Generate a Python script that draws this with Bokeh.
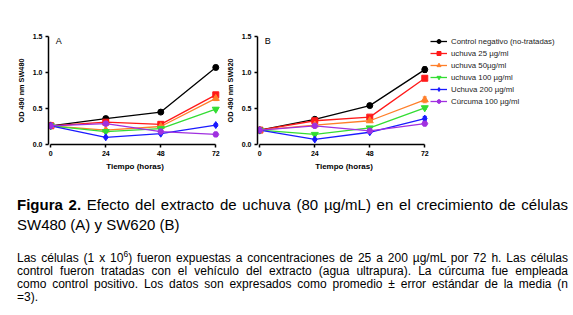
from bokeh.plotting import figure
from bokeh.models import (Range1d, FixedTicker, PrintfTickFormatter, Legend, LegendItem,
                          Whisker, ColumnDataSource, Label, Div, TeeHead)
from bokeh.layouts import column, row
from bokeh.embed import file_html
from bokeh.resources import INLINE

# ---------------- data ----------------
time = [0, 24, 48, 72]
x_ticks = [0, 24, 48, 72]
y_ticks = [0.0, 0.5, 1.0, 1.5]

series_names = ["Control negativo (no-tratadas)", "uchuva 25 \u00b5g/ml", "uchuva 50\u00b5g/ml",
                "uchuva 100 \u00b5g/ml", "Uchuva 200 \u00b5g/ml", "C\u00farcuma 100 \u00b5g/ml"]
series_colors = ["#000000", "#ff1a1a", "#ff7f2a", "#33dd33", "#1a1aff", "#a030e0"]
series_markers = ["circle", "square", "triangle", "inverted_triangle", "diamond", "hex"]

# Panel A (SW480)
ctrl_a = [0.26, 0.36, 0.45, 1.07]
u25_a = [0.26, 0.31, 0.28, 0.69]
u50_a = [0.26, 0.20, 0.25, 0.64]
u100_a = [0.26, 0.18, 0.22, 0.49]
u200_a = [0.26, 0.10, 0.15, 0.27]
cur_a = [0.26, 0.29, 0.18, 0.14]
err_ctrl_a = [0.01, 0.02, 0.01, 0.03]
err_u25_a = [0.01, 0.02, 0.02, 0.03]
err_u50_a = [0.01, 0.01, 0.02, 0.03]
err_u100_a = [0.01, 0.01, 0.01, 0.02]
err_u200_a = [0.01, 0.01, 0.01, 0.02]
err_cur_a = [0.01, 0.02, 0.01, 0.02]

# Panel B (SW620)
ctrl_b = [0.20, 0.35, 0.54, 1.04]
u25_b = [0.20, 0.33, 0.38, 0.92]
u50_b = [0.20, 0.27, 0.33, 0.62]
u100_b = [0.20, 0.14, 0.23, 0.51]
u200_b = [0.20, 0.07, 0.17, 0.36]
cur_b = [0.20, 0.26, 0.19, 0.29]
err_ctrl_b = [0.01, 0.02, 0.02, 0.04]
err_u25_b = [0.01, 0.02, 0.02, 0.02]
err_u50_b = [0.01, 0.01, 0.02, 0.04]
err_u100_b = [0.01, 0.01, 0.01, 0.02]
err_u200_b = [0.01, 0.01, 0.01, 0.03]
err_cur_b = [0.01, 0.02, 0.01, 0.02]

caption_bold = "Figura 2."
caption_line1 = " Efecto del extracto de uchuva (80 \u00b5g/mL) en el crecimiento de c\u00e9lulas"
caption_line2 = "SW480 (A) y SW620 (B)"
note_lines = [
    "Las c\u00e9lulas (1 x 10<sup>6</sup>) fueron expuestas a concentraciones de 25 a 200 \u00b5g/mL por 72 h. Las c\u00e9lulas",
    "control fueron tratadas con el veh\u00edculo del extracto (agua ultrapura). La c\u00farcuma fue empleada",
    "como control positivo. Los datos son expresados como promedio \u00b1 error est\u00e1ndar de la media (n",
    "=3).",
]

FONT = "Liberation Sans"


def make_panel(vals, errs, ylabel, letter, left, right, top, bottom, with_legend):
    p = figure(width=None, height=None, frame_width=173, frame_height=108,
               x_range=Range1d(-1, 74.5), y_range=Range1d(0, 1.5),
               min_border_left=left, min_border_right=right, min_border_top=top,
               min_border_bottom=bottom, output_backend="svg", toolbar_location=None, tools="")
    p.grid.visible = False
    p.outline_line_color = None
    p.background_fill_color = "white"
    p.border_fill_color = "white"

    xa = p.xaxis[0]
    xa.bounds = (0, 72)
    xa.ticker = FixedTicker(ticks=x_ticks)
    xa.axis_label = "Tiempo (horas)"
    ya = p.yaxis[0]
    ya.bounds = (0, 1.5)
    ya.ticker = FixedTicker(ticks=y_ticks)
    ya.formatter = PrintfTickFormatter(format="%.1f")
    ya.axis_label = ylabel
    for ax in (xa, ya):
        ax.axis_line_width = 1.5
        ax.major_tick_line_width = 1.5
        ax.major_tick_out = 3
        ax.major_tick_in = 0
        ax.minor_tick_out = 0
        ax.minor_tick_in = 0
        ax.major_label_text_font = FONT
        ax.major_label_text_font_style = "bold"
        ax.major_label_text_font_size = "7px"
        ax.major_label_text_color = "#000000"
        ax.axis_label_text_font = FONT
        ax.axis_label_text_font_style = "bold"
        ax.axis_label_text_color = "#000000"
    xa.axis_label_text_font_size = "8px"
    ya.axis_label_text_font_size = "7.3px"
    xa.major_label_standoff = 3
    xa.axis_label_standoff = 3
    ya.major_label_standoff = 3
    ya.axis_label_standoff = 4

    items = []
    for name, v, e, c, m in zip(series_names, vals, errs, series_colors, series_markers):
        src = ColumnDataSource(data=dict(x=time, y=v,
                                         upper=[a + b for a, b in zip(v, e)],
                                         lower=[a - b for a, b in zip(v, e)]))
        w = Whisker(source=src, base="x", upper="upper", lower="lower", dimension="height",
                    line_color=c, line_width=1,
                    upper_head=TeeHead(size=4, line_color=c, line_width=1),
                    lower_head=TeeHead(size=4, line_color=c, line_width=1))
        p.add_layout(w)
        lr = p.line("x", "y", source=src, line_color=c, line_width=1.3)
        size = 6 if m in ("circle", "square", "hex") else 7
        sr = p.scatter("x", "y", source=src, marker=m, size=size, fill_color=c, line_color=c)
        items.append(LegendItem(label=name, renderers=[lr, sr]))

    p.add_layout(Label(x=2.2, y=1.5, text=letter, text_baseline="top", text_align="left",
                       text_font=FONT, text_font_size="9px", text_color="#000000", y_offset=1))

    if with_legend:
        leg = Legend(items=items, location="top_left", margin=0, padding=0, spacing=2,
                     glyph_width=17, glyph_height=10, label_height=10, label_standoff=4,
                     label_text_font=FONT, label_text_font_size="7.8px",
                     label_text_color="#222222", border_line_alpha=0,
                     background_fill_alpha=0)
        p.add_layout(leg, "right")
    return p


vals_a = [ctrl_a, u25_a, u50_a, u100_a, u200_a, cur_a]
errs_a = [err_ctrl_a, err_u25_a, err_u50_a, err_u100_a, err_u200_a, err_cur_a]
vals_b = [ctrl_b, u25_b, u50_b, u100_b, u200_b, cur_b]
errs_b = [err_ctrl_b, err_u25_b, err_u50_b, err_u100_b, err_u200_b, err_cur_b]

pa = make_panel(vals_a, errs_a, "OD 490 nm SW480", "A", 48, 1, 36, 36, False)
pb = make_panel(vals_b, errs_b, "OD 490 nm SW620", "B", 35, 0, 33, 39, True)

just = "text-align:justify;text-align-last:justify;"
note_html = "".join(
    '<div style="%s">%s</div>' % (just if i < len(note_lines) - 1 else "", t)
    for i, t in enumerate(note_lines))
html = (
    '<div style="font-family:\'Liberation Sans\',Arial,sans-serif;color:#000;width:551px;'
    'margin-left:12px;padding-top:10px;">'
    '<div style="font-size:15px;line-height:20px;%s"><b>%s</b>%s</div>'
    '<div style="font-size:15px;line-height:20px;">%s</div>'
    '<div style="font-size:12px;line-height:13px;margin-top:17px;">%s</div>'
    '</div>'
) % (just, caption_bold, caption_line1, caption_line2, note_html)
html = html.replace("<sup>", '<sup style="font-size:70%;line-height:0;vertical-align:super;">')

cap = Div(text=html, width=573, height=135)

layout = column(row(pa, pb), cap)

open("out.html", "w").write(file_html(layout, INLINE))
